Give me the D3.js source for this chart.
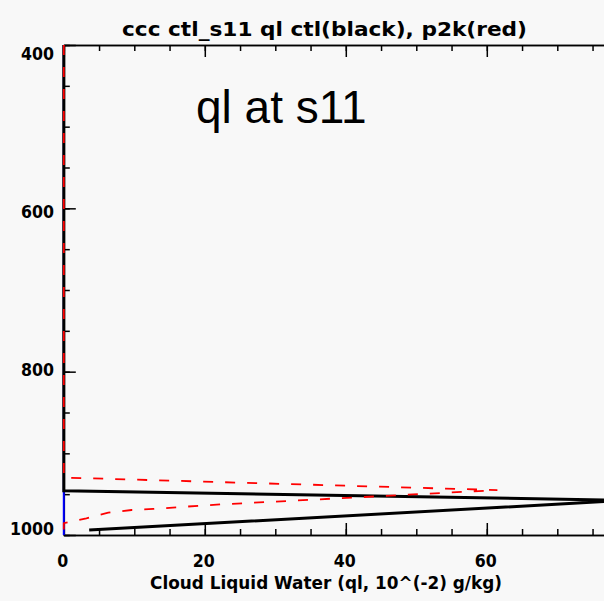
<!DOCTYPE html>
<html>
<head>
<meta charset="utf-8">
<script src="https://cdn.jsdelivr.net/npm/d3@7"></script>
<style>
  html, body { margin: 0; padding: 0; background: #f8f8f8; }
  svg { display: block; }
</style>
</head>
<body>
<script>
// Cloud liquid water profiles at site s11: control run (black) and +2K run (red)
const titleText = "ccc ctl_s11 ql ctl(black), p2k(red)";
const xTitleText = "Cloud Liquid Water (ql, 10^(-2) g/kg)";
const panelLabel = "ql at s11";

const qlMajorTicks = [0, 20, 40, 60, 80];
const qlMinorTicks = d3.range(0, 81, 5);
const qlTickLabels = [0, 20, 40, 60];
const pMajorTicks = [400, 600, 800, 1000];
const pMinorTicks = d3.range(400, 1001, 50);

// control profile (pressure in hPa, ql in 10^-2 g/kg)
const ctlP  = [400, 945.7, 957.5, 994.0];
const ctlQl = [0,   0,     80.0,  3.6];

// +2K profile
const p2kP  = [400, 929.7, 945.0, 962.4, 964.1, 968.1, 969.4, 972.7, 979.5, 985.6, 1000];
const p2kQl = [0,   0,     61.5,  22.6,  19.3,  12.7,  9.6,   6.3,   3.2,   0,     0];

// zero reference profile
const zeroP  = [400, 1000];
const zeroQl = [0, 0];

const W = 604, H = 601;
const svg = d3.select("body").append("svg").attr("width", W).attr("height", H);
svg.append("rect").attr("width", W).attr("height", H).attr("fill", "#f8f8f8");

const x = d3.scaleLinear().domain([0, 80]).range([63.8, 627.8]);
const y = d3.scaleLinear().domain([400, 1000]).range([45, 535]);
const yLabel = d3.scaleLinear().domain([400, 1000]).range([53, 528]);

const axisFont = "'DejaVu Sans', sans-serif";

// frame and inward ticks
function styleAxis(g) {
  g.select(".domain").attr("stroke", "#000").attr("stroke-width", 1.5);
  g.selectAll(".tick line").attr("stroke", "#000").attr("stroke-width", 1.5);
  g.selectAll(".tick text").remove();
}
// bottom
svg.append("g").attr("transform", `translate(0,${y(1000)})`)
  .call(d3.axisBottom(x).tickValues(qlMinorTicks).tickSize(-6).tickSizeOuter(0)).call(styleAxis);
svg.append("g").attr("transform", `translate(0,${y(1000)})`)
  .call(d3.axisBottom(x).tickValues(qlMajorTicks).tickSize(-12).tickSizeOuter(0)).call(styleAxis);
// top
svg.append("g").attr("transform", `translate(0,${y(400)})`)
  .call(d3.axisTop(x).tickValues(qlMinorTicks).tickSize(-6).tickSizeOuter(0)).call(styleAxis);
svg.append("g").attr("transform", `translate(0,${y(400)})`)
  .call(d3.axisTop(x).tickValues(qlMajorTicks).tickSize(-12).tickSizeOuter(0)).call(styleAxis);
// left
svg.append("g").attr("transform", `translate(${x(0)},0)`)
  .call(d3.axisLeft(y).tickValues(pMinorTicks).tickSize(-6).tickSizeOuter(0)).call(styleAxis);
svg.append("g").attr("transform", `translate(${x(0)},0)`)
  .call(d3.axisLeft(y).tickValues(pMajorTicks).tickSize(-12).tickSizeOuter(0)).call(styleAxis);

// tick labels
svg.append("g").selectAll("text").data(qlTickLabels).join("text")
  .attr("x", d => x(d) - 1).attr("y", 560)
  .attr("text-anchor", "middle").attr("dominant-baseline", "central")
  .attr("font-family", axisFont).attr("font-weight", "bold").attr("font-size", 18)
  .attr("textLength", d => String(d).length * 11).attr("lengthAdjust", "spacingAndGlyphs")
  .text(d => d);
svg.append("g").selectAll("text").data(pMajorTicks).join("text")
  .attr("x", 54).attr("y", d => yLabel(d))
  .attr("text-anchor", "end").attr("dominant-baseline", "central")
  .attr("font-family", axisFont).attr("font-weight", "bold").attr("font-size", 18)
  .attr("textLength", d => String(d).length * 11).attr("lengthAdjust", "spacingAndGlyphs")
  .text(d => d);

// titles
svg.append("text").attr("x", 122).attr("y", 29)
  .attr("dominant-baseline", "central")
  .attr("font-family", axisFont).attr("font-weight", "bold").attr("font-size", 19)
  .attr("textLength", 405).attr("lengthAdjust", "spacingAndGlyphs")
  .text(titleText);
svg.append("text").attr("x", 150).attr("y", 583)
  .attr("dominant-baseline", "central")
  .attr("font-family", axisFont).attr("font-weight", "bold").attr("font-size", 17)
  .attr("textLength", 352).attr("lengthAdjust", "spacingAndGlyphs")
  .text(xTitleText);
svg.append("text").attr("x", 196).attr("y", 123)
  .attr("font-family", "'Liberation Sans', Arial, sans-serif").attr("font-size", 46)
  .attr("fill", "#000")
  .text(panelLabel);

// profiles
const line = d3.line().x(d => x(d[0])).y(d => y(d[1]));
const zip = (q, p) => q.map((v, i) => [v, p[i]]);

svg.append("path").datum(zip(zeroQl, zeroP)).attr("d", line)
  .attr("fill", "none").attr("stroke", "#0000ff").attr("stroke-width", 2);
svg.append("path").datum(zip(ctlQl, ctlP)).attr("d", line)
  .attr("fill", "none").attr("stroke", "#000").attr("stroke-width", 3)
  .attr("stroke-linejoin", "miter");
svg.append("path").datum(zip(p2kQl, p2kP)).attr("d", line)
  .attr("fill", "none").attr("stroke", "#ff0000").attr("stroke-width", 1.8)
  .attr("stroke-dasharray", "10,12");
</script>
</body>
</html>
